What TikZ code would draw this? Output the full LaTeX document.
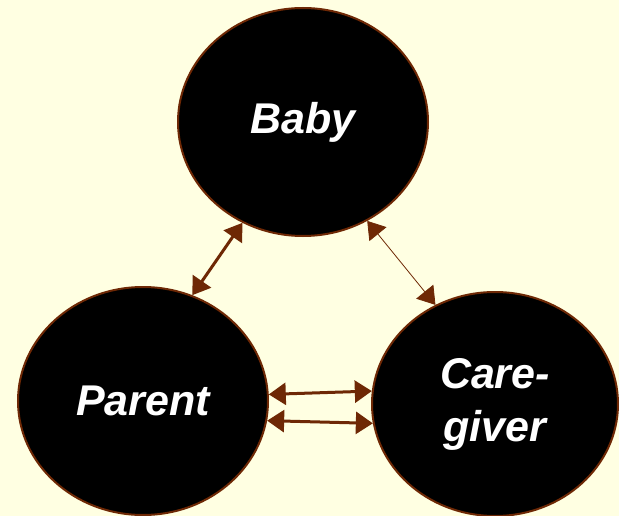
\documentclass[tikz,border=0pt]{standalone}
\usepackage{fontspec}
\setmainfont{Liberation Sans}
\usetikzlibrary{shapes.geometric,arrows.meta}
\definecolor{bg}{RGB}{255,255,226}
\definecolor{brn}{RGB}{110,40,5}
\begin{document}
\begin{tikzpicture}[x=1pt,y=-1pt,
  blob/.style={ellipse,draw=brn,line width=2pt,fill=black,text=white,inner sep=0pt,
    font=\fontsize{43}{53}\selectfont\bfseries\itshape,align=center},
  link/.style={brn,{Triangle[length=17pt,width=22pt]}-{Triangle[length=17pt,width=22pt]}},
  thick link/.style={link,line width=3pt},
  thin link/.style={link,line width=0.8pt}]
\fill[bg] (0,0) rectangle (619,516);
\useasboundingbox (0,0) rectangle (619,516);
\node[blob,minimum width=250pt,minimum height=228pt] (baby) at (303,122) {Baby};
\node[blob,minimum width=250pt,minimum height=228pt] (parent) at (143,401) {Parent};
\node[blob,minimum width=246pt,minimum height=224pt] (care) at (495,404) {Care-\\giver};
\draw[thick link] (baby.-121) -- (parent.65);
\draw[thin link] (baby.-57) -- (care.121);
\draw[thick link] (parent.3.6) -- (care.174.6);
\draw[thick link] (parent.-9.4) -- (care.-171.5);
\end{tikzpicture}
\end{document}
